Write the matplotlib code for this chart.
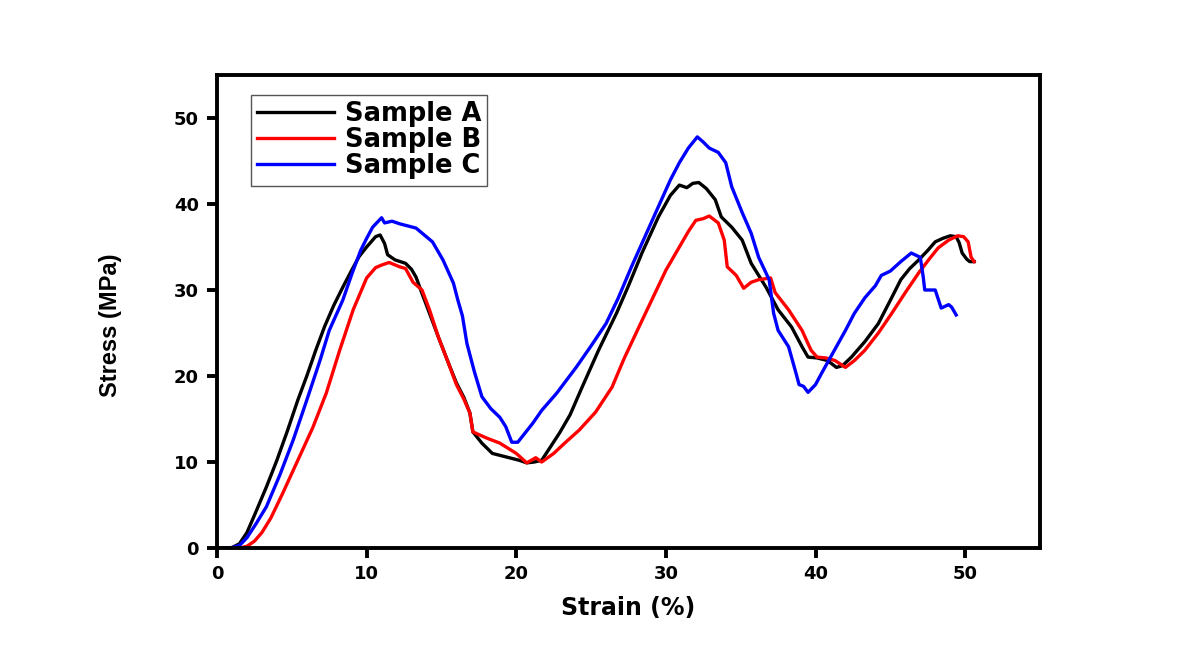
import matplotlib
matplotlib.use("Agg")
import matplotlib.pyplot as plt

plt.rcParams['font.family'] = ['DejaVu Sans']

a_x = [0, 1.0, 1.5, 2.0, 2.5, 3.3, 4.0, 4.7, 5.4, 6.0, 6.6, 7.2, 7.8, 8.4, 9.0, 9.5, 10.0, 10.6, 10.9, 11.2, 11.4, 11.9, 12.6, 13.0, 13.3, 13.7, 14.2, 14.8, 15.4, 16.0, 16.5, 16.9, 17.1, 17.7, 18.4, 19.3, 20.2, 20.7, 21.2, 21.7, 22.3, 22.9, 23.6, 24.4, 25.5, 26.7, 27.5, 28.4, 29.5, 30.3, 30.9, 31.4, 31.8, 32.2, 32.7, 33.3, 33.7, 34.4, 35.1, 35.7, 36.7, 37.5, 38.4, 39.1, 39.5, 40.1, 40.8, 41.4, 41.8, 42.4, 43.3, 44.2, 45.0, 45.7, 46.3, 46.9, 47.5, 48.0, 48.5, 49.0, 49.4, 49.6, 49.8, 50.1, 50.3, 50.6]
a_y = [0, 0.05, 0.5, 1.8, 3.8, 7.1, 10.2, 13.6, 17.2, 20.0, 23.0, 25.8, 28.2, 30.3, 32.3, 33.9, 35.0, 36.2, 36.4, 35.4, 34.1, 33.5, 33.1, 32.4, 31.5, 29.6, 27.3, 24.5, 21.8, 19.2, 17.5, 15.7, 13.5, 12.2, 11.0, 10.6, 10.2, 9.9, 10.0, 10.2, 11.8, 13.4, 15.5, 18.7, 23.0, 27.3, 30.5, 34.3, 38.5, 41.0, 42.2, 41.9, 42.4, 42.5, 41.8, 40.5, 38.5, 37.3, 35.8, 33.1, 30.3, 27.7, 25.7, 23.4, 22.2, 22.1, 21.8, 21.0, 21.2, 22.2, 24.0, 26.1, 28.8, 31.2, 32.5, 33.5, 34.6, 35.6, 36.0, 36.3, 36.2, 35.5, 34.3, 33.6, 33.3, 33.3]

b_x = [0, 1.5, 2.0, 2.5, 3.0, 3.6, 4.4, 5.4, 6.4, 7.3, 8.2, 9.1, 10.0, 10.6, 11.0, 11.5, 12.2, 12.6, 13.1, 13.7, 14.2, 14.8, 15.4, 16.0, 16.5, 16.9, 17.1, 18.0, 18.9, 20.0, 20.7, 21.3, 21.7, 22.5, 23.3, 24.2, 25.3, 26.4, 27.2, 28.2, 29.1, 30.0, 30.9, 31.5, 32.0, 32.5, 32.9, 33.5, 33.9, 34.1, 34.7, 35.2, 35.7, 36.2, 37.0, 37.3, 38.2, 39.1, 39.7, 40.1, 40.7, 41.3, 42.0, 42.6, 43.3, 44.2, 45.1, 46.0, 46.9, 47.6, 48.2, 48.9, 49.5, 49.9, 50.2, 50.4, 50.6]
b_y = [0, 0.0, 0.2, 0.8, 1.8, 3.5, 6.4, 10.2, 14.0, 18.0, 23.0, 27.7, 31.4, 32.6, 32.9, 33.2, 32.7, 32.5, 30.9, 30.0, 27.7, 24.5, 21.8, 19.0, 17.3, 15.7, 13.5, 12.8, 12.2, 11.0, 9.9, 10.5, 10.0, 11.0, 12.3, 13.7, 15.8, 18.7, 22.0, 25.7, 29.0, 32.3, 35.0, 36.8, 38.1, 38.3, 38.6, 37.8, 35.8, 32.7, 31.7, 30.2, 30.9, 31.2, 31.4, 29.7, 27.7, 25.3, 23.0, 22.2, 22.1, 21.8, 21.0, 21.8, 23.0, 25.0, 27.3, 29.7, 32.0, 33.6, 34.9, 35.8, 36.3, 36.2, 35.6, 33.8, 33.3]

c_x = [0, 1.0, 1.5, 2.0, 2.6, 3.3, 4.2, 5.1, 6.0, 6.9, 7.5, 8.4, 9.0, 9.6, 10.0, 10.4, 11.0, 11.2, 11.7, 12.2, 13.3, 14.4, 15.1, 15.8, 16.1, 16.4, 16.7, 17.2, 17.7, 18.3, 18.9, 19.3, 19.7, 20.1, 20.6, 21.1, 21.7, 22.7, 24.0, 25.0, 26.0, 26.8, 27.7, 28.6, 29.5, 30.3, 30.9, 31.5, 32.1, 32.5, 32.9, 33.5, 34.0, 34.4, 35.1, 35.7, 36.2, 36.9, 37.2, 37.5, 38.2, 38.7, 38.9, 39.2, 39.5, 40.0, 40.4, 41.2, 42.0, 42.6, 43.3, 44.0, 44.4, 45.0, 45.7, 46.4, 47.0, 47.2, 47.3, 48.0, 48.4, 48.9, 49.1, 49.4]
c_y = [0, 0.05, 0.3, 1.2, 2.8, 4.8, 8.5, 12.6, 17.2, 21.9, 25.3, 28.8, 31.8, 34.6, 36.0, 37.3, 38.4, 37.8, 38.0, 37.7, 37.2, 35.6, 33.5, 30.8, 28.8, 27.0, 23.8, 20.5, 17.6, 16.2, 15.2, 14.1, 12.3, 12.3, 13.4, 14.5, 16.0, 18.0, 21.0, 23.5, 26.1, 29.0, 32.7, 36.2, 39.7, 42.8, 44.8, 46.5, 47.8, 47.2, 46.5, 46.0, 44.8, 42.0, 39.0, 36.6, 33.8, 31.2, 27.3, 25.3, 23.4, 20.3, 19.0, 18.8, 18.1, 19.0, 20.3, 22.8, 25.3, 27.3, 29.1, 30.5, 31.7, 32.2, 33.3, 34.3, 33.8, 31.5, 30.0, 30.0, 27.9, 28.3, 28.0, 27.1]

labels = ['Sample A', 'Sample B', 'Sample C']
colors = ['black', 'red', 'blue']
ticks = [0, 10, 20, 30, 40, 50]

fig = plt.figure(figsize=(11.97, 6.56), dpi=100)
ax = fig.add_axes([0.1813, 0.1646, 0.6875, 0.7211])

for xs, ys, lab, col in zip([a_x, b_x, c_x], [a_y, b_y, c_y], labels, colors):
    ax.plot(xs, ys, color=col, lw=2.4, label=lab, solid_joinstyle='round')

ax.set_xlim(0, 55)
ax.set_ylim(0, 55)
ax.set_xticks(ticks)
ax.set_yticks(ticks)
for s in ax.spines.values():
    s.set_linewidth(2.8)
ax.tick_params(direction='out', length=7, width=2.8, labelsize=13)
ax.tick_params(axis='y', pad=6)
ax.tick_params(axis='x', pad=5)
for t in ax.get_xticklabels() + ax.get_yticklabels():
    t.set_fontweight('bold')
ax.set_xlabel('Strain (%)', fontsize=17, fontweight='bold')
ax.set_ylabel('Stress (MPa)', fontsize=17, fontweight='bold',
              family=['Liberation Sans', 'DejaVu Sans'])
ax.xaxis.set_label_coords(0.5, -0.102)
ax.yaxis.set_label_coords(-0.115, 0.47)

leg = ax.legend(loc='upper left', bbox_to_anchor=(0.041, 0.958),
                prop={'weight': 'bold', 'size': 18.5}, handlelength=3.0,
                fancybox=False, framealpha=1, edgecolor='#555555',
                borderpad=0.25, labelspacing=0.0, handletextpad=0.4,
                borderaxespad=0)
leg.get_frame().set_linewidth(1.0)

fig.savefig('out.png', dpi=100)
